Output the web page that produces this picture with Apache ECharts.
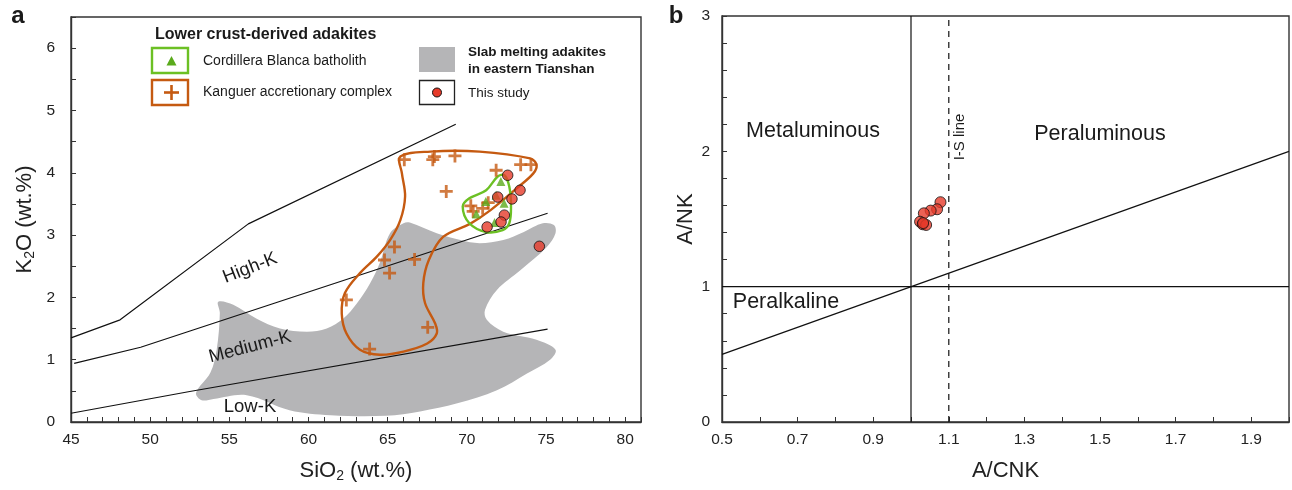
<!doctype html>
<html>
    <head>
        <meta charset="utf-8">
        <title>Adakite discrimination diagrams</title>
        <style>
            html, body { margin: 0; padding: 0; background: #fff; }
            #main { width: 1292px; height: 490px; }
        </style>
    </head>
    <body>
        <div id="main"></div>
        <script src="https://cdn.jsdelivr.net/npm/echarts@6/dist/echarts.min.js"></script>
        <script>
            // panel a: SiO2 vs K2O boundaries
            var upperLine = [[45, 1.35], [48.1, 1.64], [56.2, 3.18], [69.3, 4.78]];
            var highKLine = [[45.2, 0.94], [49.4, 1.20], [75.1, 3.35]];
            var lowKLine = [[45, 0.14], [52.5, 0.49], [75.1, 1.49]];

            // fields (outlines)
            var slabField = [
                [54.3, 1.93], [55.25, 1.88], [56.7, 1.66], [58.2, 1.50], [59.9, 1.45], [61.15, 1.50],
                [62.2, 1.66], [63.05, 1.90], [63.9, 2.23], [64.5, 2.55], [65.15, 3.03], [66.0, 3.19],
                [66.4, 3.20], [68.1, 3.03], [69.6, 2.92], [70.8, 2.87], [72.3, 2.92], [73.6, 3.05],
                [74.8, 3.19], [75.5, 3.16], [75.6, 3.03], [75.05, 2.81], [73.4, 2.44], [71.9, 2.12],
                [71.15, 1.80], [71.26, 1.64], [72.3, 1.45], [74.4, 1.32], [75.6, 1.16], [75.26, 1.0],
                [73.8, 0.78], [71.9, 0.51], [69.4, 0.30], [67.05, 0.17], [64.9, 0.10], [61.4, 0.11],
                [58.8, 0.19], [56.1, 0.43], [54.0, 0.37], [53.25, 0.35], [52.9, 0.47], [53.8, 0.79],
                [54.2, 1.16], [54.4, 1.75]
            ];
            var kanguerField = [
                [65.8, 4.26], [67.7, 4.34], [70.8, 4.34], [74.0, 4.23], [74.4, 4.13], [74.2, 3.99],
                [73.15, 3.75], [71.5, 3.40], [70.2, 3.18], [68.5, 2.97], [67.6, 2.60], [67.25, 2.23],
                [67.36, 1.91], [68.0, 1.58], [68.1, 1.42], [67.5, 1.26], [66.0, 1.13], [64.5, 1.08],
                [63.25, 1.16], [62.4, 1.42], [62.1, 1.74], [62.3, 2.07], [63.25, 2.39], [64.3, 2.65],
                [65.15, 2.92], [65.8, 3.24], [66.1, 3.62], [65.9, 3.99]
            ];
            var cordilleraField = [
                [72.37, 3.96], [72.68, 3.78], [72.79, 3.46], [72.68, 3.19], [72.26, 3.08], [71.22, 3.05],
                [70.16, 3.19], [69.74, 3.46], [70.16, 3.59], [71.22, 3.72], [71.95, 3.94]
            ];

            // samples
            var kanguerSamples = [
                [66.05, 4.21], [67.85, 4.21], [67.95, 4.26], [69.25, 4.27], [71.85, 4.04], [73.4, 4.13],
                [74.05, 4.13], [68.7, 3.70], [70.25, 3.47], [70.4, 3.38], [71.35, 3.52], [71.0, 3.43],
                [65.43, 2.81], [64.8, 2.60], [66.7, 2.61], [65.12, 2.39], [62.39, 1.96], [67.53, 1.52],
                [63.86, 1.17]
            ];
            var cordilleraSamples = [
                [72.15, 3.86], [71.85, 3.64], [71.2, 3.54], [72.35, 3.51], [70.6, 3.34], [71.75, 3.20]
            ];
            var thisStudyA = [
                [72.58, 3.96], [71.95, 3.61], [73.36, 3.72], [72.85, 3.58], [72.37, 3.32], [72.16, 3.21],
                [71.28, 3.13], [74.58, 2.82]
            ];

            // panel b: A/CNK vs A/NK
            var metaPeraLine = [[1.0, 0], [1.0, 3]];
            var isLine = [[1.1, 0], [1.1, 3]];
            var alkLine = [[0.5, 1], [2.0, 1]];
            var diagLine = [[0.5, 0.5], [2.0, 2.0]];
            var thisStudyB = [
                [1.078, 1.624], [1.069, 1.572], [1.052, 1.562], [1.034, 1.542], [1.024, 1.480],
                [1.031, 1.461], [1.040, 1.456], [1.032, 1.470]
            ];

            var font = 'Liberation Sans, Arial, sans-serif';
            var axisColor = '#333';
            var orange = '#c55a11';
            var green = '#6cc024';
            var red = '#e63b2a';
            var plus = 'path://M-1.3,-6H1.3V-1.3H6V1.3H1.3V6H-1.3V1.3H-6V-1.3H-1.3Z';

            function axisBase() {
                return {
                    type: 'value',
                    axisLine: { show: true, lineStyle: { color: axisColor, width: 1.4 } },
                    axisTick: { show: true, inside: true, length: 5, lineStyle: { color: axisColor } },
                    minorTick: { show: true, length: 5, lineStyle: { color: axisColor } },
                    splitLine: { show: false },
                    axisLabel: { color: '#222', fontSize: 15.5, fontFamily: font, showMaxLabel: false },
                    nameLocation: 'middle',
                    nameTextStyle: { color: '#222', fontSize: 22, fontFamily: font }
                };
            }

            function withOpts(base, extra) {
                for (var k in extra) {
                    if (typeof extra[k] === 'object' && base[k] && !Array.isArray(extra[k])) {
                        for (var j in extra[k]) base[k][j] = extra[k][j];
                    } else {
                        base[k] = extra[k];
                    }
                }
                return base;
            }

            function boundary(data, xi, opts) {
                return {
                    type: 'line', data: data, xAxisIndex: xi, yAxisIndex: xi,
                    symbol: 'none', silent: true, z: 3, animation: false,
                    lineStyle: withOpts({ color: '#111', width: 1.2 }, opts || {})
                };
            }

            function field(pts, fill, stroke, z) {
                return {
                    type: 'custom', data: pts, xAxisIndex: 0, yAxisIndex: 0, z: z, silent: true,
                    renderItem: function (params, api) {
                        if (params.dataIndex !== 0) return null;
                        return {
                            type: 'polygon',
                            shape: { points: pts.map(function (p) { return api.coord(p); }), smooth: 0.35 },
                            style: { fill: fill, stroke: stroke || null, lineWidth: stroke ? 2.4 : 0 }
                        };
                    }
                };
            }

            function txt(x, y, text, size, opts) {
                return {
                    type: 'text', x: x, y: y, z: 20, rotation: (opts && opts.rotation) || 0,
                    style: {
                        text: text, fontSize: size, fontFamily: font, fill: '#1a1a1a',
                        fontWeight: (opts && opts.bold) ? 'bold' : 'normal',
                        align: (opts && opts.align) || 'center', verticalAlign: 'middle'
                    }
                };
            }

            var subStyle = { fontSize: 14, fontFamily: font, color: '#222', verticalAlign: 'bottom', padding: [10, 0, 0, 0] };

            var chart = echarts.init(document.getElementById('main'));

            chart.setOption({
                animation: false,
                grid: [
                    { left: 71, top: 17, width: 570, height: 405, show: true, borderColor: axisColor, borderWidth: 1.4 },
                    { left: 722, top: 16, width: 567, height: 406, show: true, borderColor: axisColor, borderWidth: 1.4 }
                ],
                xAxis: [
                    withOpts(axisBase(), {
                        gridIndex: 0, min: 45, max: 81, interval: 5,
                        minorTick: { splitNumber: 5 },
                        axisLabel: { margin: 10 },
                        name: 'SiO{s|2} (wt.%)', nameGap: 37,
                        nameTextStyle: { rich: { s: subStyle } }
                    }),
                    withOpts(axisBase(), {
                        gridIndex: 1, min: 0.5, max: 2.0, interval: 0.2,
                        minorTick: { splitNumber: 2 },
                        axisLabel: { margin: 10, formatter: function (v) { return v.toFixed(1); } },
                        name: 'A/CNK', nameGap: 38
                    })
                ],
                yAxis: [
                    withOpts(axisBase(), {
                        gridIndex: 0, min: 0, max: 6.5, interval: 1,
                        minorTick: { splitNumber: 2 },
                        axisLabel: { margin: 16 },
                        name: 'K{s|2}O (wt.%)', nameGap: 34,
                        nameTextStyle: { rich: { s: subStyle } }
                    }),
                    withOpts(axisBase(), {
                        gridIndex: 1, min: 0, max: 3, interval: 1,
                        minorTick: { splitNumber: 5 },
                        axisLabel: { margin: 12, showMaxLabel: true },
                        name: 'A/NK', nameGap: 25
                    })
                ],
                series: [
                    field(slabField, '#b5b5b7', null, 1),
                    boundary(upperLine, 0),
                    boundary(highKLine, 0),
                    boundary(lowKLine, 0),
                    field(kanguerField, 'none', orange, 4),
                    field(cordilleraField, 'none', green, 5),
                    {
                        type: 'scatter', data: kanguerSamples, xAxisIndex: 0, yAxisIndex: 0, z: 6,
                        symbol: plus, symbolSize: 13, itemStyle: { color: orange }
                    },
                    {
                        type: 'scatter', data: cordilleraSamples, xAxisIndex: 0, yAxisIndex: 0, z: 6,
                        symbol: 'triangle', symbolSize: 9, itemStyle: { color: '#5aaa1c' }
                    },
                    {
                        type: 'scatter', data: thisStudyA, xAxisIndex: 0, yAxisIndex: 0, z: 7,
                        symbol: 'circle', symbolSize: 10.5,
                        itemStyle: { color: red, borderColor: '#111', borderWidth: 1 }
                    },
                    boundary(metaPeraLine, 1),
                    boundary(isLine, 1, { type: [6, 5] }),
                    boundary(alkLine, 1),
                    boundary(diagLine, 1),
                    {
                        type: 'scatter', data: thisStudyB, xAxisIndex: 1, yAxisIndex: 1, z: 7,
                        symbol: 'circle', symbolSize: 11,
                        itemStyle: { color: red, borderColor: '#111', borderWidth: 1 }
                    }
                ],
                graphic: [
                    txt(18, 16, 'a', 24, { bold: true }),
                    txt(676, 16, 'b', 24, { bold: true }),
                    // legend of panel a
                    txt(155, 35, 'Lower crust-derived adakites', 16, { bold: true, align: 'left' }),
                    { type: 'rect', z: 20, shape: { x: 152, y: 48, width: 36, height: 25 }, style: { fill: '#fff', stroke: green, lineWidth: 2.4 } },
                    { type: 'polygon', z: 20, shape: { points: [[171.5, 56], [176.5, 65.5], [166.5, 65.5]] }, style: { fill: '#5aaa1c' } },
                    txt(203, 61, 'Cordillera Blanca batholith', 14, { align: 'left' }),
                    { type: 'rect', z: 20, shape: { x: 152, y: 80, width: 36, height: 25 }, style: { fill: '#fff', stroke: orange, lineWidth: 2.4 } },
                    { type: 'rect', z: 20, shape: { x: 164, y: 91.2, width: 15, height: 2.6 }, style: { fill: orange } },
                    { type: 'rect', z: 20, shape: { x: 170.2, y: 85, width: 2.6, height: 15 }, style: { fill: orange } },
                    txt(203, 92.5, 'Kanguer accretionary complex', 14, { align: 'left' }),
                    { type: 'rect', z: 20, shape: { x: 419, y: 47, width: 36, height: 25 }, style: { fill: '#b5b5b7' } },
                    txt(468, 52, 'Slab melting adakites', 13.5, { bold: true, align: 'left' }),
                    txt(468, 69, 'in eastern Tianshan', 13.5, { bold: true, align: 'left' }),
                    { type: 'rect', z: 20, shape: { x: 419.5, y: 80.5, width: 35, height: 24 }, style: { fill: '#fff', stroke: '#222', lineWidth: 1.3 } },
                    { type: 'circle', z: 21, shape: { cx: 437, cy: 92.5, r: 4.5 }, style: { fill: red, stroke: '#111', lineWidth: 1 } },
                    txt(468, 93, 'This study', 13.5, { align: 'left' }),
                    // series names in panel a
                    txt(250, 268, 'High-K', 18.5, { rotation: 0.375 }),
                    txt(250, 347, 'Medium-K', 18.5, { rotation: 0.255 }),
                    txt(250, 407, 'Low-K', 18.5),
                    // fields in panel b
                    txt(813, 131, 'Metaluminous', 21.5),
                    txt(1100, 134, 'Peraluminous', 21.5),
                    txt(786, 302, 'Peralkaline', 21.5),
                    txt(960, 137, 'I-S line', 15, { rotation: Math.PI / 2 })
                ]
            });

            window.onresize = chart.resize;
        </script>
    </body>
</html>
